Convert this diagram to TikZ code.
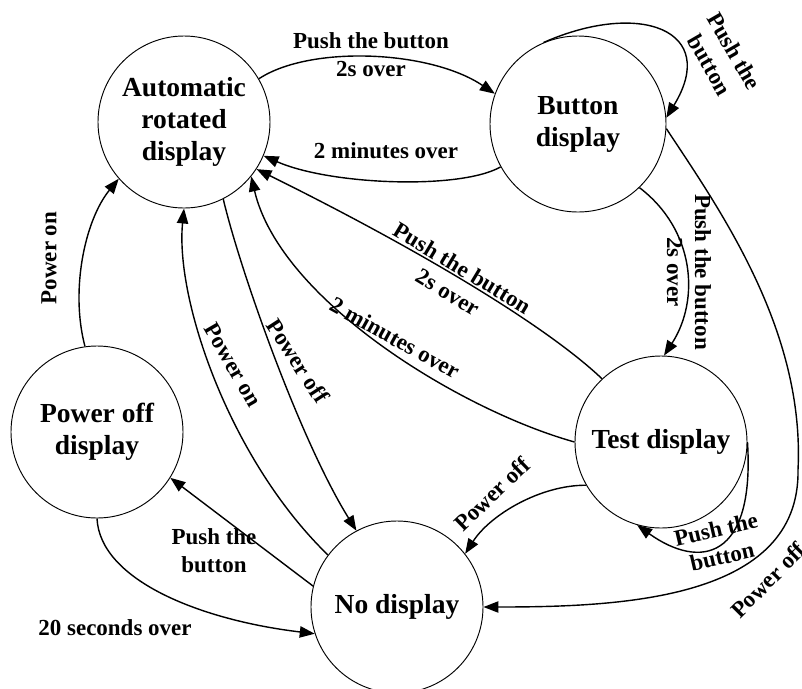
\documentclass[tikz,border=0pt]{standalone}
\usepackage{fontspec}
\setmainfont{Liberation Serif}
\usetikzlibrary{arrows.meta}
\begin{document}
\begin{tikzpicture}[x=0.03cm,y=-0.03cm,
  state/.style={circle,draw,line width=0.8pt,minimum size=5.16cm,inner sep=0pt,
    align=center,font=\fontsize{23.5}{27.3}\selectfont\bfseries},
  trans/.style={line width=1.2pt,-{Triangle[length=4.5mm,width=3.4mm]}},
  lbl/.style={align=center,inner sep=0pt,font=\fontsize{19.6}{23.9}\selectfont\bfseries}]
\useasboundingbox (0,0) rectangle (802,688);

% states
\node[state] (A) at (184,122) {Automatic\\rotated\\display};
\node[state,minimum size=5.28cm] (B) at (578,124) {Button\\display};
\node[state] (P) at (97,432) {Power off\\display};
\node[state] (T) at (661,442) {Test display};
\node[state] (N) at (397,607) {No display};

% transitions
\draw[trans] (A.30) .. controls (310,45) and (430,50) .. (B.160);
\draw[trans] (B.-151) .. controls (460,190) and (330,185) .. (A.-23);
\draw[trans] (B.113) .. controls (640,0) and (720,30) .. (B.4);
\draw[trans] (B.-3) .. controls (720,210) and (805,330) .. (798,470)
             .. controls (800,600) and (620,607) .. (N.0);
\draw[trans] (B.-46) .. controls (695,230) and (700,300) .. (T.88);
\draw[trans] (T.133) .. controls (540,320) and (400,240) .. (A.-33);
\draw[trans] (T.180) .. controls (460,410) and (280,300) .. (A.-39);
\draw[trans] (T.-150) .. controls (540,485) and (490,515) .. (N.38);
\draw[trans] (T.0) .. controls (755,560) and (700,570) .. (T.-106);
\draw[trans] (A.-63) .. controls (240,270) and (300,440) .. (N.118);
\draw[trans] (N.143) .. controls (230,460) and (175,300) .. (A.-90);
\draw[trans] (N.166) -- (P.-32);
\draw[trans] (P.-90) .. controls (100,580) and (200,620) .. (N.-162);
\draw[trans] (P.98) .. controls (70,290) and (85,220) .. (A.-139);

% labels
\node[lbl] (lab1) at (371,55) {Push the button\\2s over};
\node[lbl] (lab2) at (386,151) {2 minutes over};
\node[lbl,rotate=-60] (lab3) at (722,58) {Push the\\button};
\node[lbl,rotate=45] (lab4) at (768,580) {Power off};
\node[lbl,rotate=-90] (lab5) at (689,272) {Push the button\\2s over};
\node[lbl,rotate=-31] (lab6) at (455,280) {Push the button\\2s over};
\node[lbl,rotate=-29] (lab7) at (395,338) {2 minutes over};
\node[lbl,rotate=44] (lab8) at (492,494) {Power off};
\node[lbl,rotate=13] (lab9) at (719,543) {Push the\\button};
\node[lbl,rotate=-57] (lab10) at (298,361) {Power off};
\node[lbl,rotate=-60] (lab11) at (233,365) {Power on};
\node[lbl,rotate=90] (lab12) at (49,258) {Power on};
\node[lbl] (lab13) at (214,551) {Push the\\button};
\node[lbl] (lab14) at (115,628) {20 seconds over};
\end{tikzpicture}
\end{document}
